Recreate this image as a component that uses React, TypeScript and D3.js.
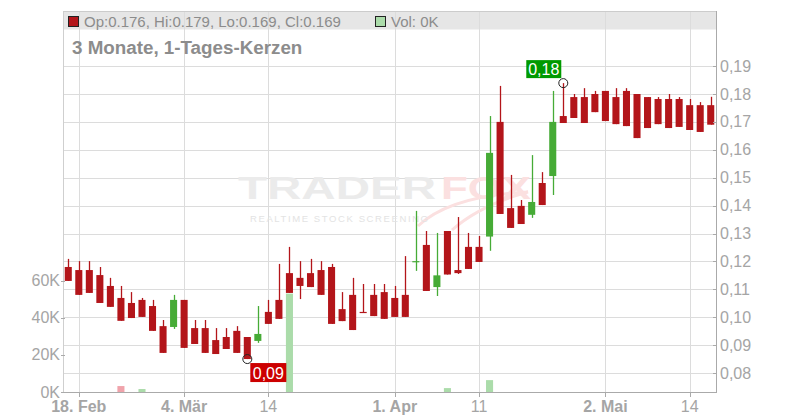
import React from "react";
import * as d3 from "d3";

const dates = [
  "2019-02-15","2019-02-18","2019-02-19","2019-02-20","2019-02-21","2019-02-22",
  "2019-02-25","2019-02-26","2019-02-27","2019-02-28","2019-03-01",
  "2019-03-04","2019-03-05","2019-03-06","2019-03-07","2019-03-08",
  "2019-03-11","2019-03-12","2019-03-13","2019-03-14","2019-03-15",
  "2019-03-18","2019-03-19","2019-03-20","2019-03-21","2019-03-22",
  "2019-03-25","2019-03-26","2019-03-27","2019-03-28","2019-03-29",
  "2019-04-01","2019-04-02","2019-04-03","2019-04-04","2019-04-05",
  "2019-04-08","2019-04-09","2019-04-10","2019-04-11","2019-04-12",
  "2019-04-15","2019-04-16","2019-04-17","2019-04-18",
  "2019-04-23","2019-04-24","2019-04-25","2019-04-26",
  "2019-04-29","2019-04-30","2019-05-02","2019-05-03",
  "2019-05-06","2019-05-07","2019-05-08","2019-05-09","2019-05-10",
  "2019-05-13","2019-05-14","2019-05-15","2019-05-16",
];

const opens = [
  0.1180,0.1169,0.1169,0.1151,0.1112,0.1069,0.1051,0.1062,0.1040,0.0968,
  0.0965,0.1062,0.0961,0.0961,0.0918,0.0929,0.0951,0.0929,0.0915,0.1019,
  0.1062,0.1158,0.1141,0.1158,0.1169,0.1180,0.1029,0.1080,0.1019,0.1080,
  0.1090,0.1069,0.1080,0.1201,0.1259,0.1108,0.1309,0.1169,0.1252,0.1252,
  0.1289,0.1700,0.1391,0.1399,0.1367,0.1481,0.1506,0.1721,0.1789,0.1789,
  0.1800,0.1811,0.1789,0.1811,0.1800,0.1789,0.1782,0.1782,0.1782,0.1760,
  0.1760,0.176,
];
const highs = [
  0.1209,0.1201,0.1201,0.1180,0.1141,0.1112,0.1090,0.1069,0.1062,0.0990,
  0.1080,0.1062,0.0990,0.0990,0.0961,0.0961,0.0968,0.0929,0.1040,0.1062,
  0.1191,0.1252,0.1201,0.1209,0.1201,0.1191,0.1090,0.1141,0.1119,0.1119,
  0.1119,0.1112,0.1219,0.1381,0.1309,0.1302,0.1309,0.1359,0.1302,0.1291,
  0.1721,0.1829,0.1510,0.1420,0.1581,0.1520,0.1811,0.1839,0.1800,0.1821,
  0.1811,0.1811,0.1821,0.1821,0.1800,0.1789,0.1789,0.1800,0.1789,0.1782,
  0.1771,0.179,
];
const lows = [
  0.1130,0.1080,0.1087,0.1051,0.1037,0.0987,0.0997,0.1001,0.0951,0.0872,
  0.0958,0.0890,0.0904,0.0872,0.0868,0.0886,0.0872,0.0850,0.0908,0.0976,
  0.0994,0.1087,0.1065,0.1108,0.1080,0.0976,0.0986,0.0954,0.1016,0.1004,
  0.0994,0.1001,0.1001,0.1166,0.1094,0.1076,0.1153,0.1155,0.1173,0.1198,
  0.1238,0.1370,0.1320,0.1334,0.1356,0.1402,0.1438,0.1696,0.1714,0.1696,
  0.1735,0.1703,0.1692,0.1685,0.1642,0.1678,0.1692,0.1678,0.1682,0.1671,
  0.1664,0.169,
];
const closes = [
  0.1130,0.1080,0.1087,0.1051,0.1037,0.0987,0.0997,0.1001,0.0951,0.0872,
  0.1062,0.0890,0.0904,0.0872,0.0868,0.0886,0.0872,0.0850,0.0940,0.0976,
  0.0994,0.1087,0.1112,0.1108,0.1080,0.0976,0.0986,0.0954,0.1016,0.1004,
  0.0994,0.1001,0.1001,0.1201,0.1094,0.1150,0.1153,0.1158,0.1173,0.1198,
  0.1589,0.1370,0.1320,0.1334,0.1413,0.1402,0.1700,0.1696,0.1714,0.1696,
  0.1735,0.1703,0.1692,0.1685,0.1642,0.1678,0.1692,0.1678,0.1682,0.1671,
  0.1664,0.169,
];
const volumes = [
  0,0,0,0,0,3200,0,1600,0,0,
  0,0,0,0,0,0,0,0,0,0,
  0,53000,0,0,0,0,0,0,0,0,
  0,0,0,0,0,0,2100,0,0,0,
  6400,0,0,0,0,0,0,0,0,0,
  0,0,0,0,0,0,0,0,0,0,
  0,0,
];

const priceTicks = [0.08,0.09,0.10,0.11,0.12,0.13,0.14,0.15,0.16,0.17,0.18,0.19];
const volumeTicks = [0,20000,40000,60000];
const xTickDates = ["2019-02-18","2019-03-04","2019-03-14","2019-04-01","2019-04-11","2019-05-02","2019-05-14"];
const xTickLabels = ["18. Feb","4. Mär","14","1. Apr","11","2. Mai","14"];
const title = "3 Monate, 1-Tages-Kerzen";

const FONT = "'Liberation Sans', Arial, Helvetica, sans-serif";
const RED = "#b3151a";
const GREEN = "#46ab36";
const VOL_GREEN = "#abdcaa";
const VOL_RED = "#f0a3ab";
const GRID = "#dcdcdc";
const AXIS_TEXT = "#a5a5a5";

export default function App() {
  const left = 63, right = 716, top = 11, bottom = 392;
  const x = d3.scaleBand<string>().domain(dates).range([left, right]).paddingInner(0.33).paddingOuter(0.165);
  const y = d3.scaleLinear().domain([0.08, 0.19]).range([373, 66.1]);
  const yv = d3.scaleLinear().domain([0, 60000]).range([bottom, 280.6]);
  const bw = x.bandwidth();
  const cx = (d: string) => (x(d) as number) + bw / 2;
  const fmtP = (v: number) => d3.format(".2f")(v).replace(".", ",");
  const fmtV = (v: number) => `${Math.round(v / 1000)}K`;
  const n = dates.length;
  const last = n - 1;

  const maxI = d3.maxIndex(highs);
  const minI = d3.minIndex(lows);
  const maxX = cx(dates[maxI]), maxY = y(highs[maxI]);
  const minX = cx(dates[minI]), minY = y(lows[minI]);

  return (
    <svg width={800} height={420} style={{ position: "absolute", left: 0, top: 0, background: "#fff" }} fontFamily={FONT}>
      <rect x={0} y={0} width={800} height={420} fill="#fff" />
      {/* header band */}
      <rect x={left} y={top} width={right - left} height={18.5} fill="#e6e6e6" />
      {/* horizontal grid */}
      {priceTicks.map((t) => (
        <line key={"hg" + t} x1={left} x2={right} y1={Math.round(y(t)) + 0.5} y2={Math.round(y(t)) + 0.5} stroke={GRID} strokeWidth={1} />
      ))}
      {/* vertical grid */}
      {xTickDates.map((d) => (
        <line key={"vg" + d} x1={Math.round(cx(d)) + 0.5} x2={Math.round(cx(d)) + 0.5} y1={top} y2={bottom} stroke={GRID} strokeWidth={1} />
      ))}
      {/* watermark */}
      <g>
        <text x={238} y={199} fontSize={31} fontWeight="bold" fill="#ebebeb" textLength={198} lengthAdjust="spacingAndGlyphs">TRADER</text>
        <text x={441} y={199} fontSize={31} fontWeight="bold" fill="#fbe0e0" textLength={90} lengthAdjust="spacingAndGlyphs">FOX</text>
        <path d="M 418 226 Q 450 196 528 192 Q 480 205 452 230" fill="none" stroke="#fbe0e0" strokeWidth={3} />
        <text x={250} y={222} fontSize={9.5} fill="#e3e3e3" textLength={178} lengthAdjust="spacing">REALTIME STOCK SCREENING</text>
      </g>
      {/* volume bars */}
      {dates.map((d, i) => {
        if (!volumes[i]) return null;
        const up = i === 0 ? true : closes[i] >= closes[i - 1];
        const yt = yv(volumes[i]);
        return <rect key={"v" + d} x={x(d)} y={yt} width={bw} height={bottom - yt} fill={up ? VOL_GREEN : VOL_RED} />;
      })}
      {/* candles */}
      {dates.map((d, i) => {
        const o = opens[i], c = closes[i], h = highs[i], l = lows[i];
        const up = c >= o;
        const col = up ? GREEN : RED;
        const yTop = y(Math.max(o, c));
        const yBot = y(Math.min(o, c));
        const hgt = Math.max(yBot - yTop, 1.2);
        const xc = Math.round(cx(d)) + 0.5;
        return (
          <g key={"c" + d}>
            <line x1={xc} x2={xc} y1={y(h)} y2={y(l)} stroke={col} strokeWidth={1.3} />
            <rect x={x(d)} y={yTop} width={bw} height={hgt} fill={col} />
          </g>
        );
      })}
      {/* frame */}
      <line x1={left + 0.5} x2={left + 0.5} y1={top} y2={bottom} stroke="#cfcfcf" />
      <line x1={left} x2={right} y1={top + 0.5} y2={top + 0.5} stroke="#cccccc" />
      <line x1={right + 0.5} x2={right + 0.5} y1={top} y2={bottom} stroke="#aaaaaa" />
      <line x1={left} x2={right + 1} y1={bottom + 0.5} y2={bottom + 0.5} stroke="#aaaaaa" />
      {/* right price axis */}
      {priceTicks.map((t) => (
        <g key={"pt" + t}>
          <line x1={right - 3} x2={right} y1={Math.round(y(t)) + 0.5} y2={Math.round(y(t)) + 0.5} stroke="#aaaaaa" />
          <text x={720} y={y(t) + 5.5} fontSize={16} fill={AXIS_TEXT}>{fmtP(t)}</text>
        </g>
      ))}
      {/* left volume axis */}
      {volumeTicks.map((t) => (
        <g key={"vt" + t}>
          <line x1={left - 2} x2={left + 2} y1={Math.round(yv(t)) + 0.5} y2={Math.round(yv(t)) + 0.5} stroke="#aaaaaa" />
          <text x={60} y={yv(t) + 5.5} fontSize={16} fill={AXIS_TEXT} textAnchor="end">{fmtV(t)}</text>
        </g>
      ))}
      {/* x axis */}
      {xTickDates.map((d, i) => (
        <g key={"xt" + d}>
          <line x1={Math.round(cx(d)) + 0.5} x2={Math.round(cx(d)) + 0.5} y1={bottom} y2={bottom + 5} stroke="#aaaaaa" />
          <text x={cx(d)} y={412} fontSize={16} fill={AXIS_TEXT} textAnchor="middle" fontWeight={xTickLabels[i].includes(".") ? "bold" : "normal"}>{xTickLabels[i]}</text>
        </g>
      ))}
      {/* header legend */}
      <rect x={68.5} y={16.5} width={10} height={10} fill={RED} stroke="#222" strokeWidth={1} />
      <text x={84} y={27} fontSize={15} fill="#8c8c8c">
        {`Op:${opens[last].toFixed(3)}, Hi:${highs[last].toFixed(3)}, Lo:${lows[last].toFixed(3)}, Cl:${closes[last].toFixed(3)}`}
      </text>
      <rect x={375.5} y={16.5} width={10} height={10} fill={VOL_GREEN} stroke="#222" strokeWidth={1} />
      <text x={391} y={27} fontSize={15} fill="#8c8c8c">{`Vol: ${fmtV(volumes[last])}`}</text>
      <text x={72} y={54} fontSize={18.8} fontWeight="bold" fill="#8c8c8c">{title}</text>
      {/* max marker */}
      <circle cx={maxX} cy={maxY} r={4.5} fill="none" stroke="#222" strokeWidth={1} />
      <rect x={maxX - 37} y={maxY - 23} width={35} height={18} fill="#009a00" />
      <text x={maxX - 19.5} y={maxY - 8.5} fontSize={16} fill="#fff" textAnchor="middle">{fmtP(highs[maxI])}</text>
      {/* min marker */}
      <circle cx={minX} cy={minY} r={4.5} fill="none" stroke="#222" strokeWidth={1} />
      <rect x={minX + 3} y={minY + 4} width={36} height={19} fill="#cc0000" />
      <text x={minX + 21} y={minY + 19.5} fontSize={16} fill="#fff" textAnchor="middle">{fmtP(lows[minI])}</text>
    </svg>
  );
}
